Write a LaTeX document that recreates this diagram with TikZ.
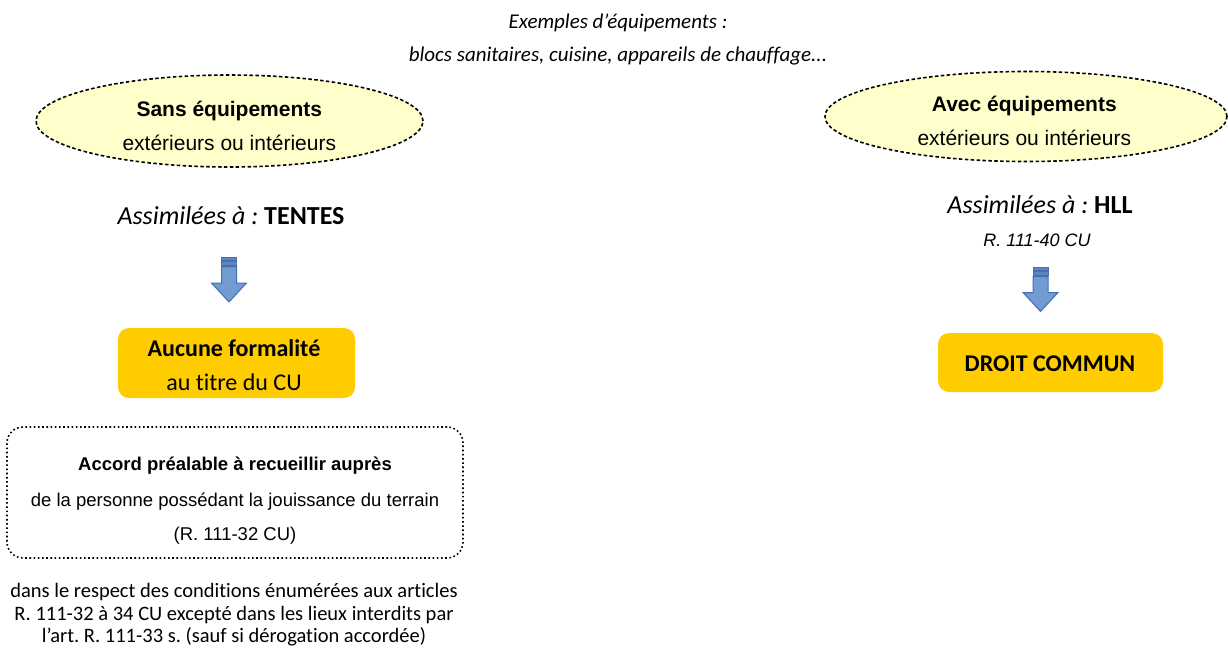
\documentclass[tikz,border=0pt]{standalone}
\usepackage{fontspec}
\setmainfont{Liberation Sans}
\newfontfamily\arialf{Liberation Sans}
\newfontfamily\calibrif[Ligatures=NoCommon]{Carlito}
\usetikzlibrary{shapes.geometric}
\definecolor{ellfill}{RGB}{255,255,204}
\definecolor{boxyellow}{RGB}{255,204,0}
\definecolor{arrfill}{RGB}{114,155,209}
\definecolor{arrdraw}{RGB}{66,112,178}
\newcommand{\fsz}[1]{\fontsize{#1}{#1}\selectfont}
\frenchspacing
\tikzset{
  txt/.style={inner sep=0pt, outer sep=0pt, anchor=base, text=black},
  cal/.style={txt, font=\calibrif\fsz{#1}},
  ari/.style={txt, font=\arialf\fsz{#1}},
  ellbox/.style={ellipse, draw=black, fill=ellfill, line width=1.6pt, dash pattern=on 3.5pt off 2.4pt, inner sep=0pt},
  yelbox/.style={rectangle, rounded corners=11pt, fill=boxyellow, draw=none, inner sep=0pt},
  dotbox/.style={rectangle, rounded corners=16pt, draw=black, line width=1.6pt, dash pattern=on 1.6pt off 2.6pt, inner sep=0pt},
  pics/striparrow/.style={code={
    \draw[draw=arrdraw, fill=arrdraw!85, line width=0.9pt]
      (-7.5,0) rectangle (7.5,3);
    \draw[draw=arrdraw, fill=arrdraw!85, line width=0.9pt]
      (-7.5,4.5) rectangle (7.5,8);
    \draw[draw=arrdraw, fill=arrfill, line width=1pt, line join=miter]
      (-7.5,9.5) -- (7.5,9.5) -- (7.5,#1) -- (17.5,#1) -- (0,#1+19) -- (-17.5,#1) -- (-7.5,#1) -- cycle;
  }}
}
\begin{document}
\begin{tikzpicture}[x=1pt,y=-1pt]
\useasboundingbox (0,0) rectangle (1228,648);
\fill[white] (0,0) rectangle (1228,648);

% top examples
\node[cal=21, font=\calibrif\itshape\fsz{21}] (ex1) at (618,28) {Exemples d’équipements :};
\node[cal=21, font=\calibrif\itshape\fsz{21}] (ex2) at (618,61) {blocs sanitaires, cuisine, appareils de chauffage...};

% left branch
\node[ellbox, minimum width=387pt, minimum height=92pt] (sans) at (229.5,121) {};
\node[ari=21, font=\arialf\bfseries\fsz{21}] (sans1) at (229.3,116.7) {Sans équipements};
\node[ari=21] (sans2) at (229.3,150.7) {extérieurs ou intérieurs};

\node[cal=26] (tentes) at (231,224) {\itshape Assimilées à : \upshape\bfseries TENTES};

\pic at (229,257) {striparrow=26};

\node[yelbox, minimum width=237pt, minimum height=70pt] (aucune) at (236.5,363) {};
\node[cal=24, font=\calibrif\bfseries\fsz{24}] (auc1) at (234,356.7) {Aucune formalité};
\node[cal=24] (auc2) at (234,390.7) {au titre du CU};

\node[dotbox, minimum width=456pt, minimum height=131pt] (accord) at (235,492.5) {};
\node[ari=18.5, font=\arialf\bfseries\fsz{18.5}] (acc1) at (235,470) {Accord préalable à recueillir auprès};
\node[ari=18.5] (acc2) at (235,506.7) {de la personne possédant la jouissance du terrain};
\node[ari=18.5] (acc3) at (235,540.7) {(R. 111-32 CU)};

\node[cal=20.5] (cond1) at (234,597.5) {dans le respect des conditions énumérées aux articles};
\node[cal=20.5] (cond2) at (234,620.5) {R. 111-32 à 34 CU excepté dans les lieux interdits par};
\node[cal=20.5] (cond3) at (234,642.5) {l’art. R. 111-33 s. (sauf si dérogation accordée)};

% right branch
\node[ellbox, minimum width=402pt, minimum height=90pt] (avec) at (1026,116.5) {};
\node[ari=21, font=\arialf\bfseries\fsz{21}] (avec1) at (1024.3,111.7) {Avec équipements};
\node[ari=21] (avec2) at (1024.3,145) {extérieurs ou intérieurs};

\node[cal=26] (hll) at (1040,213.3) {\itshape Assimilées à : \upshape\bfseries HLL};
\node[ari=18, font=\arialf\itshape\fsz{18}] (r40) at (1037,246.7) {R. 111-40 CU};

\pic at (1040.5,267) {striparrow=25.5};

\node[yelbox, minimum width=225pt, minimum height=59pt] (droit) at (1050.5,362.5) {};
\node[cal=24, font=\calibrif\bfseries\fsz{24}] (droit1) at (1050,371) {DROIT COMMUN};
\end{tikzpicture}
\end{document}
